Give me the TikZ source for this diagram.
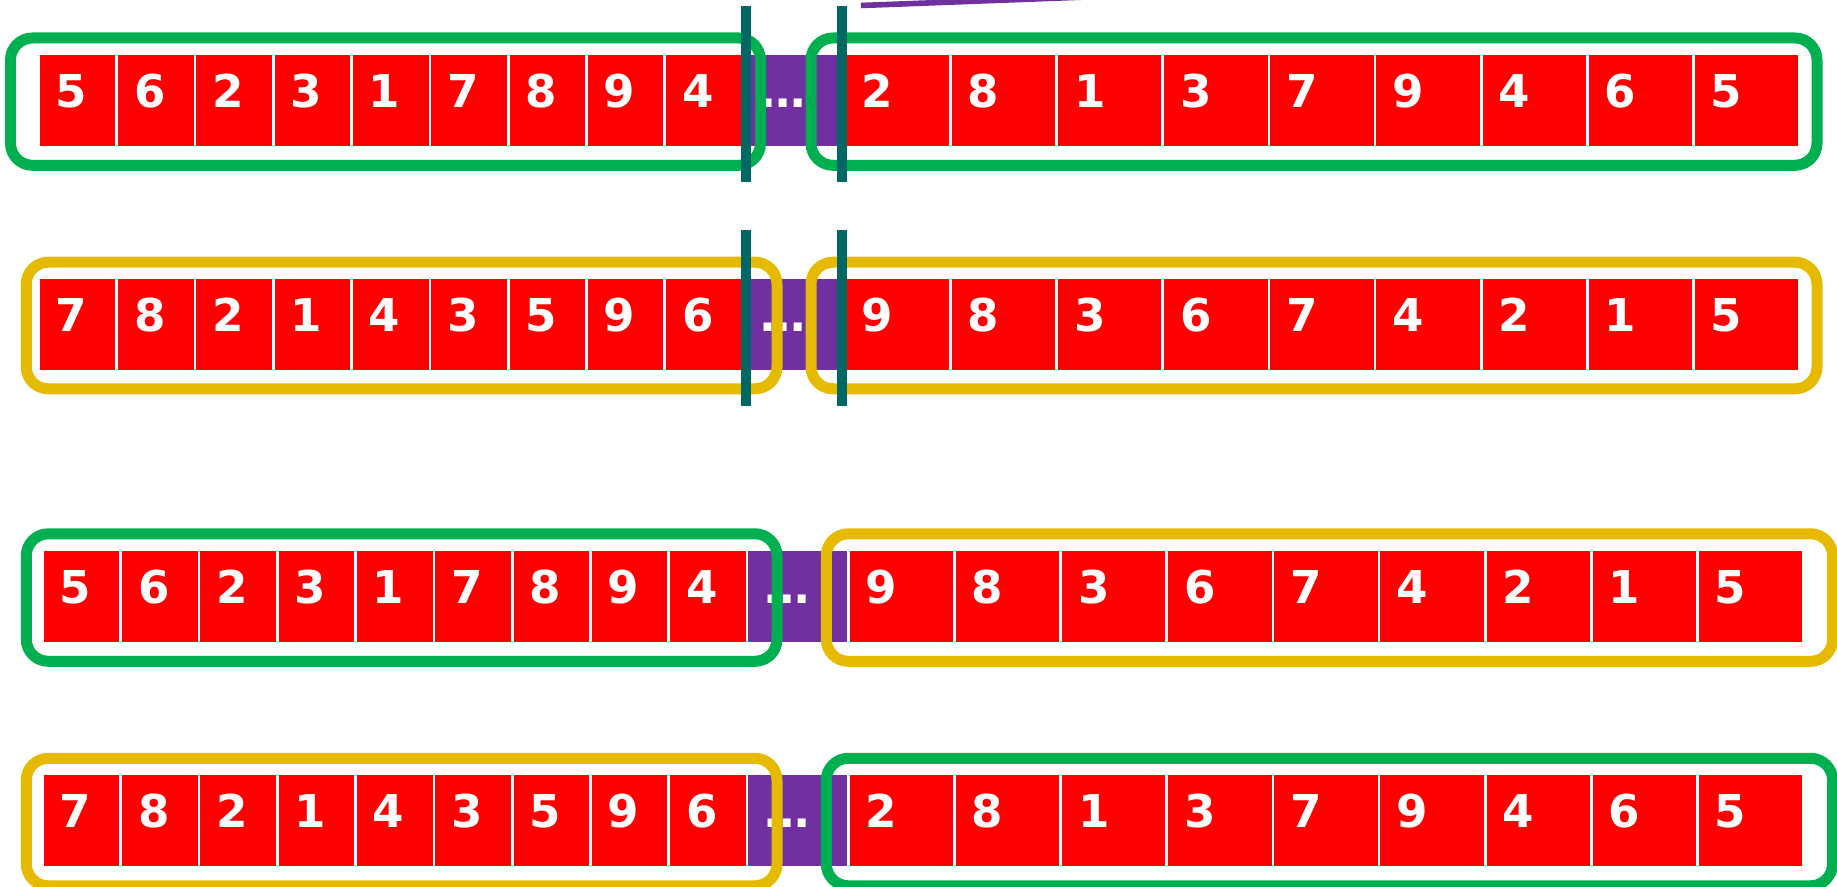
\documentclass[tikz,border=0pt]{standalone}
\usepackage{fontspec}
\newfontfamily\cellfont{DejaVu Sans}
\usepackage{tikz}
\usetikzlibrary{positioning}
\definecolor{cellred}{RGB}{255,0,0}
\definecolor{gappurple}{RGB}{112,48,160}
\definecolor{framegreen}{RGB}{0,176,80}
\definecolor{frameyellow}{RGB}{230,186,0}
\definecolor{cutteal}{RGB}{0,104,100}
\tikzset{
  cell/.style={rectangle, fill=cellred, anchor=north west,
    inner xsep=8pt, inner ysep=0pt, text height=26pt, text depth=19.35pt,
    align=left, text=white, font=\cellfont\bfseries\fontsize{22.6pt}{26pt}\selectfont},
  narrowcell/.style={cell, text width=21.8pt},
  widecell/.style={cell, text width=35.7pt},
  gapcell/.style={cell, fill=gappurple, text width=33.3pt},
  greenframe/.style={draw=framegreen, line width=5.5pt, rounded corners=11pt},
  yellowframe/.style={draw=frameyellow, line width=5.5pt, rounded corners=11pt},
  cutline/.style={draw=cutteal, line width=5pt},
  pointer/.style={draw=gappurple, line width=2.8pt}
}

\begin{document}
\begin{tikzpicture}[x=0.5pt, y=-0.5pt]
  \clip (0,0) rectangle (1837,887);

  % Four sequences: left part, gap, right part
  \foreach \row/\ytop/\ox/\leftseq/\rightseq in {
      1/55/0/{5,6,2,3,1,7,8,9,4}/{2,8,1,3,7,9,4,6,5},
      2/279/0/{7,8,2,1,4,3,5,9,6}/{9,8,3,6,7,4,2,1,5},
      3/551/4/{5,6,2,3,1,7,8,9,4}/{9,8,3,6,7,4,2,1,5},
      4/775/4/{7,8,2,1,4,3,5,9,6}/{2,8,1,3,7,9,4,6,5}}{
    \foreach \d [count=\i] in \leftseq
      \node[narrowcell] (r\row l\i) at ({39.3+\ox+(\i-1)*78.3}, \ytop) {\d};
    \node[gapcell] (r\row dots) at ({744+\ox}, \ytop) {…};
    \foreach \d [count=\i] in \rightseq
      \node[widecell] (r\row r\i) at ({845.3+\ox+(\i-1)*106.15}, \ytop) {\d};
  }

  % Frames round the halves
  \draw[greenframe] (10.5,38) rectangle (760.5,165.3);
  \draw[greenframe] (811,38) rectangle (1817,165.3);
  \draw[yellowframe] (26.3,262.2) rectangle (777,388.8);
  \draw[yellowframe] (811,262.2) rectangle (1817,388.8);
  \draw[greenframe] (26.3,533.8) rectangle (777,661.3);
  \draw[yellowframe] (826.3,533.8) rectangle (1832.6,661.3);
  \draw[yellowframe] (26.3,758.3) rectangle (777,885.8);
  \draw[greenframe] (826.3,758.3) rectangle (1832.6,885.8);

  % Cut points on the first two rows
  \draw[cutline] ([xshift=0.85pt]r1dots.west |- 0,6) -- ([xshift=0.85pt]r1dots.west |- 0,182);
  \draw[cutline] ([xshift=-0.5pt]r1dots.east |- 0,6) -- ([xshift=-0.5pt]r1dots.east |- 0,182);
  \draw[cutline] ([xshift=0.85pt]r2dots.west |- 0,230) -- ([xshift=0.85pt]r2dots.west |- 0,406);
  \draw[cutline] ([xshift=-0.5pt]r2dots.east |- 0,230) -- ([xshift=-0.5pt]r2dots.east |- 0,406);

  % Pointer leaving the top edge
  \coordinate (tip) at (1100,-3.5);
  \draw[pointer] (861,5.5) -- (tip);
\end{tikzpicture}
\end{document}
